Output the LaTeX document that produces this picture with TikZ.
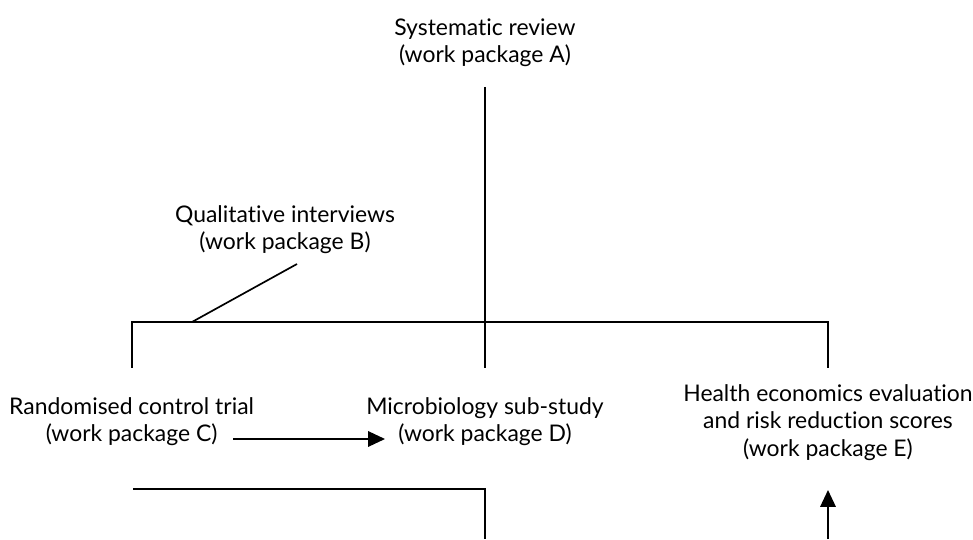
\documentclass[tikz,border=0pt]{standalone}
\usepackage{fontspec}
\setmainfont{Lato}[Ligatures=NoCommon]
\usetikzlibrary{arrows.meta, positioning, calc}

\begin{document}
\begin{tikzpicture}[
  wp/.style={align=center, font=\fontsize{16.3}{19.3}\selectfont},
  link/.style={line width=1.2pt},
  arr/.style={line width=1.2pt, -{Triangle[length=12pt, width=11pt]}}]
\useasboundingbox (0,0) rectangle (24.325,13.475);

% Work packages
\node[wp] (revA) at (12.125,12.4) {Systematic review\\(work package A)};
\node[wp] (qualB) at (7.125,7.74) {Qualitative interviews\\(work package B)};
\node[wp] (rctC) at (3.29,2.925) {Randomised control trial\\(work package C)};
\node[wp] (microD) at (12.125,2.925) {Microbiology sub-study\\(work package D)};
\node[wp] (econE) at (20.7,2.91) {Health economics evaluation\\and risk reduction scores\\(work package E)};

% Junction points
\coordinate (topA) at (12.125,11.3);
\coordinate (barL) at (3.3,5.425);
\coordinate (barR) at (20.7,5.425);
\coordinate (barB) at (4.8,5.425);
\coordinate (endB) at (7.425,6.875);
\coordinate (dropC) at (3.3,4.275);
\coordinate (dropD) at (12.125,4.275);
\coordinate (dropE) at (20.7,4.275);
\coordinate (lowL) at (3.325,1.25);
\coordinate (lowM) at (12.125,1.25);
\coordinate (lowEnd) at (12.125,0);
\coordinate (upE) at (20.7,0);
\coordinate (tipE) at (20.7,1.225);
\coordinate (arrC) at (5.825,2.5);
\coordinate (arrD) at (9.625,2.5);

% Connectors
\draw[link] (topA) -- (dropD);
\draw[link] (dropC) -- (barL) -- (barR) -- (dropE);
\draw[link] (endB) -- (barB);
\draw[arr] (arrC) -- (arrD);
\draw[link] (lowL) -- (lowM) -- (lowEnd);
\draw[arr] (upE) -- (tipE);
\end{tikzpicture}
\end{document}
